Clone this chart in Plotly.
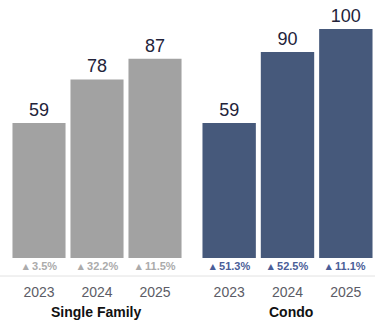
import plotly.graph_objects as go

years = ["2023", "2024", "2025"]
sf_values = [59, 78, 87]
condo_values = [59, 90, 100]
sf_changes = ["3.5%", "32.2%", "11.5%"]
condo_changes = ["51.3%", "52.5%", "11.1%"]
groups = ["Single Family", "Condo"]

SF_COLOR = "#a2a2a2"
CONDO_COLOR = "#46597b"
FONT = "Liberation Sans, Arial, sans-serif"

pos = list(range(len(years)))

fig = go.Figure()
for vals, color, xa, ya in [(sf_values, SF_COLOR, "x", "y"), (condo_values, CONDO_COLOR, "x2", "y2")]:
    fig.add_trace(go.Bar(x=pos, y=vals, width=0.915, marker=dict(color=color, line=dict(width=0)),
                         text=[str(v) for v in vals], textposition="outside", constraintext="none",
                         cliponaxis=False, hoverinfo="skip",
                         textfont=dict(size=18, color="#23233a", family=FONT),
                         xaxis=xa, yaxis=ya))

ymax = 112.7
xax = dict(range=[-0.5, 2.5], showgrid=False, zeroline=False, showline=False,
           tickmode="array", tickvals=pos, ticktext=years, ticks="",
           tickfont=dict(size=14, color="#5c5c66", family=FONT))
fig.update_layout(
    width=375, height=323,
    margin=dict(l=0, r=0, t=0, b=65),
    paper_bgcolor="white", plot_bgcolor="white",
    showlegend=False,
    xaxis=dict(domain=[10/375, 184/375], anchor="y", **xax),
    xaxis2=dict(domain=[200/375, 1.0], anchor="y2", **xax),
    yaxis=dict(range=[0, ymax], visible=False, domain=[0, 1], anchor="x"),
    yaxis2=dict(range=[0, ymax], visible=False, domain=[0, 1], anchor="x2"),
)

annotations = []
for xr, changes, col in [("x", sf_changes, "#ababab"), ("x2", condo_changes, "#4a5e98")]:
    for p, ch in zip(pos, changes):
        annotations.append(dict(x=p, y=-8/258, xref=xr, yref="paper", text="<b>▴ " + ch + "</b>",
                                showarrow=False, xanchor="center", yanchor="middle",
                                font=dict(size=11, color=col, family=FONT)))
annotations.append(dict(x=96/375, y=-54/258, xref="paper", yref="paper", text="<b>" + groups[0] + "</b>",
                        showarrow=False, xanchor="center", yanchor="middle",
                        font=dict(size=14, color="#111", family=FONT)))
annotations.append(dict(x=291/375, y=-54/258, xref="paper", yref="paper", text="<b>" + groups[1] + "</b>",
                        showarrow=False, xanchor="center", yanchor="middle",
                        font=dict(size=14, color="#111", family=FONT)))
fig.update_layout(annotations=annotations)
fig.update_xaxes(ticklabelstandoff=24)
fig.add_shape(type="line", xref="paper", yref="paper", x0=0, x1=1, y0=-18/258, y1=-18/258,
              line=dict(color="#e2e2e2", width=1))

fig.write_html("out.html", config={"displayModeBar": False},
               post_script="document.body.style.margin='0';")
